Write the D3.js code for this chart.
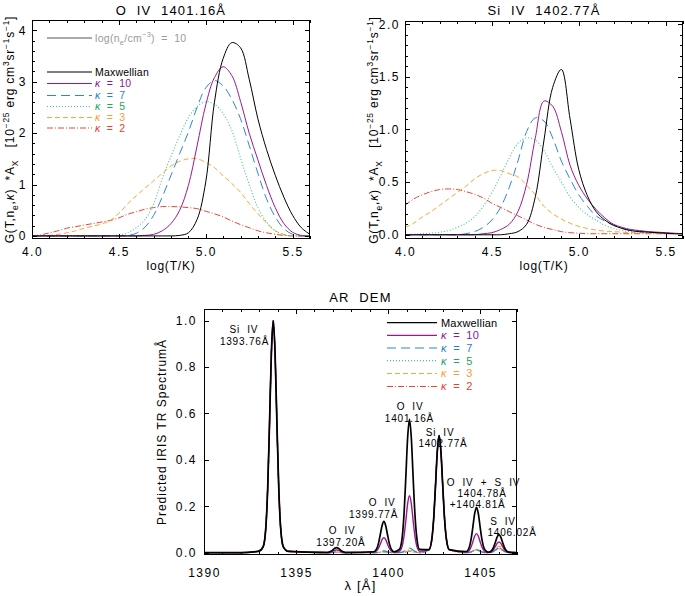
<!DOCTYPE html>
<html><head><meta charset="utf-8">
<script src="https://cdn.jsdelivr.net/npm/d3@7"></script>
<style>body{margin:0;background:#fff;} svg{display:block;} text{font-family:"Liberation Sans",Arial,sans-serif;}</style>
</head><body>
<script>
// ---------- DATA ----------
const logT = [4.00,4.05,4.10,4.15,4.20,4.25,4.30,4.35,4.40,4.45,4.50,4.55,4.60,4.65,4.70,4.75,4.80,4.85,4.90,4.95,5.00,5.05,5.10,5.15,5.20,5.25,5.30,5.35,5.40,5.45,5.50,5.55,5.60];
// O IV 1401.16 A contribution functions
const oivMax = [0,0,0,0,0,0,0,0,0,0,0,0,0,0,0,0,0,0.01,0.06,0.32,1.05,2.6,3.45,3.76,3.66,3.05,2.28,1.68,1.18,0.75,0.40,0.16,0.03];
const oivK10 = [0,0,0,0,0,0,0,0,0,0,0,0,0,0.01,0.03,0.10,0.24,0.50,0.98,1.75,2.55,3.08,3.29,3.12,2.62,2.00,1.48,0.98,0.55,0.24,0.07,0.01,0];
const oivK7  = [0,0,0,0,0,0,0,0,0,0,0,0.01,0.05,0.17,0.40,0.76,1.18,1.60,2.02,2.50,2.88,3.02,2.92,2.66,2.28,1.76,1.22,0.72,0.37,0.14,0.03,0,0];
const oivK5  = [0,0,0,0,0,0,0,0,0,0.005,0.02,0.06,0.16,0.32,0.62,1.12,1.55,1.95,2.30,2.52,2.61,2.56,2.38,2.05,1.52,1.00,0.55,0.27,0.10,0.02,0,0,0];
const oivK3  = [0,0.005,0.01,0.03,0.06,0.10,0.15,0.19,0.23,0.30,0.44,0.62,0.78,0.93,1.07,1.22,1.36,1.45,1.50,1.50,1.43,1.33,1.17,1.02,0.85,0.63,0.43,0.25,0.10,0.03,0,0,0];
const oivK2  = [0,0.02,0.06,0.10,0.15,0.18,0.21,0.24,0.27,0.30,0.35,0.42,0.47,0.52,0.55,0.57,0.57,0.565,0.55,0.53,0.48,0.43,0.37,0.29,0.22,0.16,0.10,0.06,0.03,0.01,0,0,0];
// Si IV 1402.77 A contribution functions
const siivMax = [0,0,0,0,0,0,0,0,0,0,0,0,0.01,0.03,0.10,0.36,0.90,1.40,1.57,1.10,0.62,0.37,0.22,0.14,0.09,0.06,0.04,0.03,0.025,0.02,0.015,0.01,0.01];
const siivK10 = [0,0,0,0,0,0,0,0,0,0.01,0.02,0.05,0.10,0.22,0.48,0.92,1.27,1.22,0.98,0.66,0.47,0.34,0.24,0.16,0.10,0.07,0.05,0.04,0.03,0.025,0.02,0.015,0.01];
const siivK7  = [0,0,0,0,0,0,0,0.01,0.03,0.07,0.14,0.26,0.45,0.70,0.98,1.11,1.08,0.92,0.70,0.53,0.38,0.27,0.18,0.13,0.09,0.06,0.04,0.03,0.025,0.02,0.015,0.01,0.01];
const siivK5  = [0,0.005,0.01,0.015,0.025,0.04,0.07,0.11,0.17,0.27,0.40,0.56,0.73,0.87,0.92,0.90,0.80,0.64,0.50,0.36,0.26,0.19,0.14,0.09,0.06,0.04,0.03,0.025,0.02,0.02,0.015,0.01,0.01];
const siivK3  = [0.07,0.11,0.17,0.22,0.28,0.34,0.40,0.46,0.53,0.58,0.61,0.61,0.58,0.55,0.47,0.38,0.27,0.20,0.15,0.11,0.08,0.06,0.045,0.035,0.03,0.025,0.02,0.02,0.015,0.015,0.01,0.01,0.01];
const siivK2  = [0.28,0.34,0.38,0.41,0.43,0.435,0.43,0.41,0.385,0.35,0.30,0.26,0.22,0.18,0.14,0.10,0.07,0.05,0.03,0.02,0.015,0.01,0.01,0.01,0.01,0.01,0.01,0.01,0.01,0.01,0.01,0.01,0.01];

// Predicted IRIS TR spectrum, AR DEM (normalised)
const wl = [1390.0,1392.0,
 1392.96,1393.21,1393.36,1393.46,1393.56,1393.66,1393.76,1393.86,1393.96,1394.06,1394.16,1394.31,1394.56,
 1396.65,1396.80,1396.90,1397.00,1397.10,1397.20,1397.30,1397.40,1397.50,1397.60,1397.75,
 1399.22,1399.37,1399.47,1399.57,1399.67,1399.77,1399.87,1399.97,1400.07,1400.17,1400.32,
 1400.61,1400.76,1400.86,1400.96,1401.06,1401.16,1401.26,1401.36,1401.46,1401.56,1401.71,
 1402.22,1402.37,1402.47,1402.57,1402.67,1402.77,1402.87,1402.97,1403.07,1403.17,1403.32,
 1404.25,1404.40,1404.50,1404.60,1404.70,1404.80,1404.90,1405.00,1405.10,1405.20,1405.35,
 1405.47,1405.62,1405.72,1405.82,1405.92,1406.02,1406.12,1406.22,1406.32,1406.42,1406.57,
 1407.0];
const specMax = [0,0,
 0.006,0.025,0.11,0.28,0.56,0.86,1.0,0.86,0.56,0.28,0.11,0.025,0.006,
 0.001,0.003,0.006,0.012,0.019,0.022,0.019,0.012,0.006,0.003,0.001,
 0.004,0.015,0.038,0.076,0.116,0.135,0.116,0.076,0.038,0.015,0.004,
 0.014,0.063,0.161,0.322,0.495,0.575,0.495,0.322,0.161,0.063,0.014,
 0.013,0.056,0.141,0.283,0.434,0.505,0.434,0.283,0.141,0.056,0.013,
 0.005,0.021,0.055,0.109,0.168,0.195,0.168,0.109,0.055,0.021,0.005,
 0.002,0.009,0.022,0.044,0.067,0.078,0.067,0.044,0.022,0.009,0.002,
 0];
const specK10 = [0,0,
 0.006,0.025,0.11,0.28,0.56,0.86,1.0,0.86,0.56,0.28,0.11,0.025,0.006,
 0,0.001,0.003,0.007,0.010,0.012,0.010,0.007,0.003,0.001,0,
 0.002,0.007,0.018,0.036,0.056,0.065,0.056,0.036,0.018,0.007,0.002,
 0.006,0.027,0.069,0.137,0.211,0.245,0.211,0.137,0.069,0.027,0.006,
 0.013,0.056,0.141,0.283,0.434,0.505,0.434,0.283,0.141,0.056,0.013,
 0.002,0.009,0.023,0.046,0.071,0.082,0.071,0.046,0.023,0.009,0.002,
 0.001,0.005,0.013,0.026,0.040,0.046,0.040,0.026,0.013,0.005,0.001,
 0];
const specK7 = [0,0,
 0.006,0.025,0.11,0.28,0.56,0.86,1.0,0.86,0.56,0.28,0.11,0.025,0.006,
 0,0,0.001,0.002,0.003,0.004,0.003,0.002,0.001,0,0,
 0,0.001,0.002,0.004,0.007,0.008,0.007,0.004,0.002,0.001,0,
 0.001,0.002,0.006,0.011,0.017,0.020,0.017,0.011,0.006,0.002,0.001,
 0.013,0.056,0.141,0.283,0.434,0.505,0.434,0.283,0.141,0.056,0.013,
 0,0.001,0.003,0.007,0.010,0.012,0.010,0.007,0.003,0.001,0,
 0,0.002,0.006,0.011,0.017,0.020,0.017,0.011,0.006,0.002,0,
 0];
const specK5 = [0,0,
 0.006,0.025,0.11,0.28,0.56,0.86,1.0,0.86,0.56,0.28,0.11,0.025,0.006,
 0,0,0.001,0.002,0.003,0.003,0.003,0.002,0.001,0,0,
 0,0.001,0.001,0.003,0.004,0.005,0.004,0.003,0.001,0.001,0,
 0,0.001,0.003,0.007,0.010,0.012,0.010,0.007,0.003,0.001,0,
 0.013,0.056,0.141,0.283,0.434,0.505,0.434,0.283,0.141,0.056,0.013,
 0,0.001,0.003,0.006,0.009,0.010,0.009,0.006,0.003,0.001,0,
 0,0.002,0.004,0.009,0.014,0.016,0.014,0.009,0.004,0.002,0,
 0];
const specK3 = [0,0,
 0.006,0.025,0.11,0.28,0.56,0.86,1.0,0.86,0.56,0.28,0.11,0.025,0.006,
 0,0,0.001,0.001,0.002,0.002,0.002,0.001,0.001,0,0,
 0,0,0.001,0.002,0.003,0.004,0.003,0.002,0.001,0,0,
 0,0.001,0.002,0.004,0.007,0.008,0.007,0.004,0.002,0.001,0,
 0.013,0.056,0.141,0.283,0.434,0.505,0.434,0.283,0.141,0.056,0.013,
 0,0.002,0.004,0.008,0.012,0.014,0.012,0.008,0.004,0.002,0,
 0.001,0.003,0.008,0.016,0.024,0.028,0.024,0.016,0.008,0.003,0.001,
 0];
const specK2 = [0,0,
 0.006,0.025,0.11,0.28,0.56,0.86,1.0,0.86,0.56,0.28,0.11,0.025,0.006,
 0,0,0,0.001,0.001,0.001,0.001,0.001,0,0,0,
 0,0,0.001,0.002,0.003,0.003,0.003,0.002,0.001,0,0,
 0,0.001,0.002,0.003,0.005,0.006,0.005,0.003,0.002,0.001,0,
 0.013,0.056,0.141,0.283,0.434,0.505,0.434,0.283,0.141,0.056,0.013,
 0,0.001,0.003,0.007,0.010,0.012,0.010,0.007,0.003,0.001,0,
 0,0.002,0.006,0.011,0.017,0.020,0.017,0.011,0.006,0.002,0,
 0];

const seriesNames = ["Maxwellian","κ","κ","κ","κ","κ"];
const seriesValues = ["","  =  10","  =  7","  =  5","  =  3","  =  2"];
const lineColors = ["#000000","#9a1a8e","#2f86d0","#3cc98c","#ffa436","#e8463c"];
const textColors = ["#000000","#8b1a89","#2a7ec8","#23a55e","#f7a030","#e3402f"];
const dashes = [null,null,"9,5","1,2","5,3","6,2,1,2"];

const tTicksMajor = [4.0,4.5,5.0,5.5];
const oivYTicks = [0,1,2,3,4];
const siivYTicks = [0.0,0.5,1.0,1.5,2.0];
const wlTicks = [1390,1395,1400,1405];
const specYTicks = [0.0,0.2,0.4,0.6,0.8,1.0];

// spectrum annotations: text, wavelength of text centre, intensity of baseline
const spectrumLabels = [
  ["Si  IV", 1392.17, 0.947], ["1393.76Å", 1392.2, 0.895],
  ["O  IV", 1397.5, 0.080], ["1397.20Å", 1397.44, 0.029],
  ["O  IV", 1399.67, 0.201], ["1399.77Å", 1399.21, 0.149],
  ["O  IV", 1401.19, 0.615], ["1401.16Å", 1401.16, 0.563],
  ["Si  IV", 1402.82, 0.503], ["1402.77Å", 1402.98, 0.455],
  ["O  IV  +  S  IV", 1405.18, 0.287], ["1404.78Å", 1405.10, 0.240], ["+1404.81Å", 1404.86, 0.193],
  ["S  IV", 1406.24, 0.119], ["1406.02Å", 1406.73, 0.072]
];

// ---------- DRAW ----------
const W = 685, H = 596;
const svg = d3.select("body").append("svg").attr("width", W).attr("height", H);
const defs = svg.append("defs");

function styleText(sel, size, ls) {
  sel.attr("font-family", '"Liberation Sans", Arial, sans-serif')
     .attr("font-size", size).attr("letter-spacing", ls).attr("fill", "#000");
}

function makePanel(id, box, xDom, yDom) {
  const xs = d3.scaleLinear().domain(xDom).range([box.l, box.r]);
  const ys = d3.scaleLinear().domain(yDom).range([box.b, box.t]);
  defs.append("clipPath").attr("id", id).append("rect")
    .attr("x", box.l).attr("y", box.t).attr("width", box.r - box.l).attr("height", box.b - box.t);
  return {xs, ys, box, clip: "url(#" + id + ")"};
}

function drawAxes(p, o) {
  const {xs, ys, box} = p;
  const g = svg.append("g").attr("shape-rendering", "crispEdges");
  const ml = o.majLen, mn = o.minLen;
  const rm = s => s.select(".domain").remove();
  g.append("g").attr("transform", `translate(0,${box.b})`)
    .call(d3.axisBottom(xs).tickValues(o.xMaj).tickSizeInner(-ml).tickSizeOuter(0).tickPadding(o.xPad).tickFormat(o.xFmt))
    .call(rm).call(s => styleText(s.selectAll("text"), 12, 1.5));
  g.append("g").attr("transform", `translate(0,${box.b})`)
    .call(d3.axisBottom(xs).tickValues(o.xMin).tickSizeInner(-mn).tickSizeOuter(0).tickFormat(""))
    .call(rm);
  g.append("g").attr("transform", `translate(0,${box.t})`)
    .call(d3.axisTop(xs).tickValues(o.xMaj).tickSizeInner(-ml).tickSizeOuter(0).tickFormat(""))
    .call(rm);
  g.append("g").attr("transform", `translate(0,${box.t})`)
    .call(d3.axisTop(xs).tickValues(o.xMin).tickSizeInner(-mn).tickSizeOuter(0).tickFormat(""))
    .call(rm);
  g.append("g").attr("transform", `translate(${box.l},0)`)
    .call(d3.axisLeft(ys).tickValues(o.yMaj).tickSizeInner(-ml).tickSizeOuter(0).tickPadding(o.yPad).tickFormat(o.yFmt))
    .call(rm).call(s => styleText(s.selectAll("text"), 12, 1.5));
  if (o.yMin.length) g.append("g").attr("transform", `translate(${box.l},0)`)
    .call(d3.axisLeft(ys).tickValues(o.yMin).tickSizeInner(-mn).tickSizeOuter(0).tickFormat(""))
    .call(rm);
  g.append("g").attr("transform", `translate(${box.r},0)`)
    .call(d3.axisRight(ys).tickValues(o.yMaj).tickSizeInner(-ml).tickSizeOuter(0).tickFormat(""))
    .call(rm);
  if (o.yMin.length) g.append("g").attr("transform", `translate(${box.r},0)`)
    .call(d3.axisRight(ys).tickValues(o.yMin).tickSizeInner(-mn).tickSizeOuter(0).tickFormat(""))
    .call(rm);
  g.selectAll(".tick line").attr("stroke", "#000");
  g.append("rect").attr("x", box.l + 0.5).attr("y", box.t + 0.5)
    .attr("width", box.r - box.l - 1).attr("height", box.b - box.t - 1)
    .attr("fill", "none").attr("stroke", "#000").attr("stroke-width", 1);
}

function richText(parent, x, y, segs, size, ls, rotate, anchor) {
  const t = parent.append("text")
    .attr("transform", `translate(${x},${y})` + (rotate ? " rotate(-90)" : ""))
    .attr("text-anchor", anchor || "middle");
  styleText(t, size, ls);
  let shift = 0;
  segs.forEach(s => {
    const sp = t.append("tspan").attr("xml:space", "preserve").style("white-space", "pre").text(s[0]);
    let target = 0;
    if (s[1] === "sub") target = size * 0.3;
    if (s[1] === "sup") target = -size * 0.45;
    if (s[1] === "sub" || s[1] === "sup") sp.attr("font-size", size * 0.7);
    if (s[1] === "it") sp.attr("font-style", "italic");
    sp.attr("dy", target - shift);
    shift = target;
  });
  return t;
}

const minorRange = (a, b, s) => d3.range(Math.round((b - a) / s) + 1).map(i => +(a + i * s).toFixed(4));

const pA = makePanel("clipA", {l:32, r:310, t:20, b:239}, [4.0, 5.6], [-0.06, 4.2]);
const pB = makePanel("clipB", {l:405, r:683, t:21, b:239}, [4.0, 5.6], [-0.04, 2.03]);
const pC = makePanel("clipC", {l:204, r:517, t:309, b:555}, [1390, 1407], [-0.01, 1.05]);

const oivSeries = [oivMax, oivK10, oivK7, oivK5, oivK3, oivK2];
const siivSeries = [siivMax, siivK10, siivK7, siivK5, siivK3, siivK2];
const specSeries = [specMax, specK10, specK7, specK5, specK3, specK2];

function drawCurves(p, xArr, series, curve, widths) {
  const g = svg.append("g").attr("clip-path", p.clip);
  [5,4,3,2,1,0].forEach(i => {
    const line = d3.line().x((d, j) => p.xs(xArr[j])).y(d => p.ys(d)).curve(curve);
    g.append("path").datum(series[i]).attr("d", line)
      .attr("fill", "none").attr("stroke", lineColors[i])
      .attr("stroke-width", widths[i])
      .attr("stroke-dasharray", dashes[i]);
  });
}

drawCurves(pA, logT, oivSeries, d3.curveCatmullRom.alpha(0.5), [1,1,1,1.1,1,1]);
drawCurves(pB, logT, siivSeries, d3.curveCatmullRom.alpha(0.5), [1,1,1,1.1,1,1]);
drawCurves(pC, wl, specSeries, d3.curveMonotoneX, [1.7,1.4,1.2,1.2,1.2,1.2]);

const f1 = d3.format(".1f");
drawAxes(pA, {xMaj: tTicksMajor, xMin: minorRange(4.0, 5.6, 0.1), yMaj: oivYTicks, yMin: minorRange(0, 4.2, 0.2),
  majLen: 5, minLen: 3, xPad: 8, yPad: 5, xFmt: f1, yFmt: d3.format("d")});
drawAxes(pB, {xMaj: tTicksMajor, xMin: minorRange(4.0, 5.6, 0.1), yMaj: siivYTicks, yMin: minorRange(0, 2.0, 0.1),
  majLen: 5, minLen: 3, xPad: 8, yPad: 5, xFmt: f1, yFmt: f1});
drawAxes(pC, {xMaj: wlTicks, xMin: d3.range(1390, 1408, 1), yMaj: specYTicks, yMin: [],
  majLen: 5, minLen: 3, xPad: 13, yPad: 7, xFmt: d3.format("d"), yFmt: f1});

function plainText(x, y, s, size, ls, anchor) {
  const t = svg.append("text").attr("x", x).attr("y", y).attr("text-anchor", anchor || "middle")
    .attr("xml:space", "preserve").style("white-space", "pre").text(s);
  styleText(t, size, ls);
  return t;
}

// Titles
plainText(171, 15, "O  IV  1401.16Å", 13, 1.2);
plainText(544, 15, "Si  IV  1402.77Å", 13, 1.2);
plainText(360.5, 302, "AR  DEM", 13, 1.2);

// X labels
plainText(171, 270, "log(T/K)", 12, 0.8);
plainText(544, 270, "log(T/K)", 12, 0.8);
plainText(360.5, 590, "λ [Å]", 13, 1.2);

// Y labels
const gLabel = [["G(T,n"],["e","sub"],[","],["κ","it"],[")  *A"],["X","sub"],["   [10"],["−25","sup"],[" erg cm"],["3","sup"],["sr"],["−1","sup"],["s"],["−1","sup"],["]"]];
richText(svg, 14, 129.5, gLabel, 12, 0.8, true);
richText(svg, 378, 130, gLabel, 12, 0.8, true);
richText(svg, 166, 432, [["Predicted IRIS TR SpectrumÅ"]], 12, 1, true);

// Legend panel A
const legA = svg.append("g");
legA.append("line").attr("x1", 47).attr("x2", 92).attr("y1", 38).attr("y2", 38).attr("stroke", "#aaaaaa").attr("stroke-width", 2);
const lg = richText(legA, 95, 41.5, [["log(n"],["e","sub"],["/cm"],["−3","sup"],[")  =  10"]], 10.5, 0.3, false, "start");
lg.attr("fill", "#9a9a9a");

function legend(g, rows, x1, x2, tx, size, lw) {
  seriesNames.forEach((n, i) => {
    g.append("line").attr("x1", x1).attr("x2", x2).attr("y1", rows[i]).attr("y2", rows[i])
      .attr("stroke", lineColors[i]).attr("stroke-width", lw).attr("stroke-dasharray", dashes[i]);
    const segs = i === 0 ? [[n]] : [[n, "it"], [seriesValues[i]]];
    const t = richText(g, tx, rows[i] + size * 0.35, segs, size, 0.2, false, "start");
    t.attr("fill", textColors[i]);
  });
}
legend(legA, [72, 83.5, 95.5, 106.5, 117.5, 128], 47, 92, 95, 10.5, 1.1);
const legC = svg.append("g");
legend(legC, [322.7, 335.3, 348, 360.7, 373.5, 386.5], 387, 437, 441, 11, 1.2);

// Spectrum line annotations
spectrumLabels.forEach(d => plainText(pC.xs(d[1]), pC.ys(d[2]), d[0], 10, 0.8));
</script>
</body></html>
